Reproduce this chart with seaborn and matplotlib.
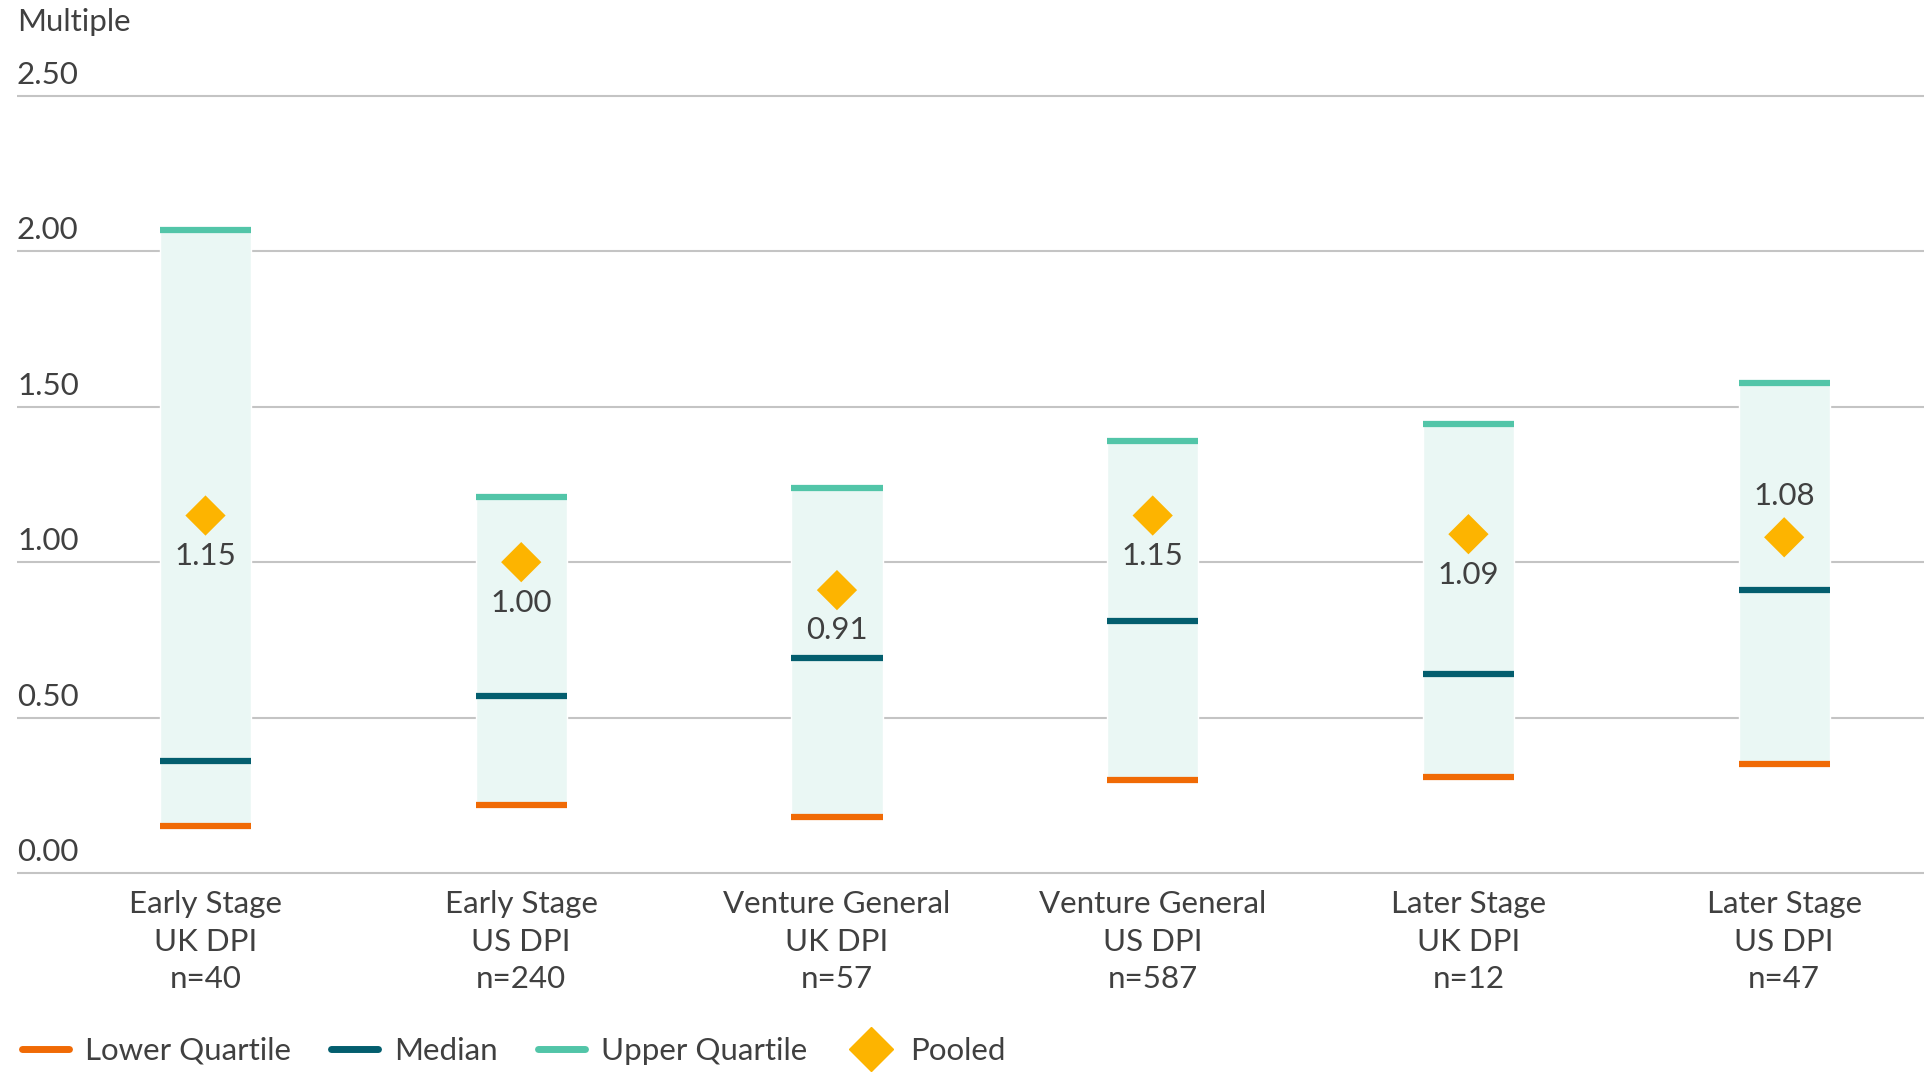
import matplotlib
matplotlib.use("Agg")
import matplotlib.pyplot as plt
from matplotlib.lines import Line2D
import matplotlib.transforms as mtransforms
import seaborn as sns
import pandas as pd
import numpy as np

# Dati
categories = ["Early Stage\nUK DPI\nn=40", "Early Stage\nUS DPI\nn=240",
              "Venture General\nUK DPI\nn=57", "Venture General\nUS DPI\nn=587",
              "Later Stage\nUK DPI\nn=12", "Later Stage\nUS DPI\nn=47"]
lower_quartile = [0.15, 0.22, 0.18, 0.30, 0.31, 0.35]
median = [0.36, 0.57, 0.69, 0.81, 0.64, 0.91]
upper_quartile = [2.07, 1.21, 1.24, 1.39, 1.445, 1.575]
pooled = [1.15, 1.00, 0.91, 1.15, 1.09, 1.08]
pooled_labels = ["1.15", "1.00", "0.91", "1.15", "1.09", "1.08"]
y_ticks = [0.0, 0.5, 1.0, 1.5, 2.0, 2.5]

c_lower = "#F06A05"
c_median = "#035E6E"
c_upper = "#52C5A8"
c_pooled = "#FDB400"
c_fill = "#EAF7F4"
c_text = "#404040"

sns.set_style("white")
plt.rcParams["font.family"] = ["Lato", "DejaVu Sans"]
fs = 22.5

df = pd.DataFrame({"cat": categories, "low": lower_quartile, "med": median,
                   "up": upper_quartile, "pooled": pooled})
df["span"] = df["up"] - df["low"]

fig = plt.figure(figsize=(19.31, 10.72), dpi=100)
ax = fig.add_axes([0.0088, 1 - 876 / 1072, 0.9876, (876 - 89.8) / 1072])

# Box tra quartile inferiore e superiore
sns.barplot(data=df, x="cat", y="span", bottom=df["low"], color=c_fill,
            width=0.289, saturation=1, ax=ax, zorder=2)

xs = np.arange(len(categories))
hw = 0.289 / 2
ax.hlines(df["up"], xs - hw, xs + hw, colors=c_upper, linewidth=4.5, zorder=3)
ax.hlines(df["med"], xs - hw, xs + hw, colors=c_median, linewidth=4.5, zorder=3)
ax.hlines(df["low"], xs - hw, xs + hw, colors=c_lower, linewidth=4.5, zorder=3)

sns.scatterplot(x=xs, y=df["pooled"], marker="D", s=420, color=c_pooled,
                edgecolor="none", ax=ax, zorder=4)

for i, (v, lab) in enumerate(zip(pooled, pooled_labels)):
    if i == len(pooled) - 1:
        ax.annotate(lab, (i, v), xytext=(0, 20), textcoords="offset points",
                    ha="center", va="bottom", fontsize=fs, color=c_text, zorder=5)
    else:
        ax.annotate(lab, (i, v), xytext=(0, -19), textcoords="offset points",
                    ha="center", va="top", fontsize=fs, color=c_text, zorder=5)

# Griglia orizzontale
for t in y_ticks:
    ax.axhline(t, color="#C4C4C4", linewidth=1.5, zorder=1)

ax.set_xlim(-0.597, 5.443)
ax.set_ylim(-0.01, 2.52)
ax.set_yticks([])
ax.set_xlabel("")
ax.set_ylabel("")
ax.tick_params(axis="x", length=0, pad=10, labelsize=fs, labelcolor=c_text)
for lab in ax.get_xticklabels():
    lab.set_linespacing(1.42)
for s in ax.spines.values():
    s.set_visible(False)

trans = mtransforms.blended_transform_factory(ax.transAxes, ax.transData)
for t in y_ticks:
    ax.annotate(f"{t:.2f}", (0, t), xycoords=trans, xytext=(0, 5),
                textcoords="offset points", ha="left", va="bottom",
                fontsize=fs, color=c_text)
fig.text(0.0088, 1 - 22 / 1072, "Multiple", ha="left", va="center",
         fontsize=fs, color=c_text)

handles = [Line2D([], [], color=c_lower, linewidth=5, solid_capstyle="round"),
           Line2D([], [], color=c_median, linewidth=5, solid_capstyle="round"),
           Line2D([], [], color=c_upper, linewidth=5, solid_capstyle="round"),
           Line2D([], [], color=c_pooled, marker="D", linestyle="none", markersize=22)]
fig.legend(handles, ["Lower Quartile", "Median", "Upper Quartile", "Pooled"],
           loc="center left", bbox_to_anchor=(0.005, 1 - 1051 / 1072), ncol=4,
           frameon=False, fontsize=fs, labelcolor=c_text, handlelength=1.5,
           handletextpad=0.5, columnspacing=1.3, borderaxespad=0)

fig.savefig("out.png", dpi=100)
